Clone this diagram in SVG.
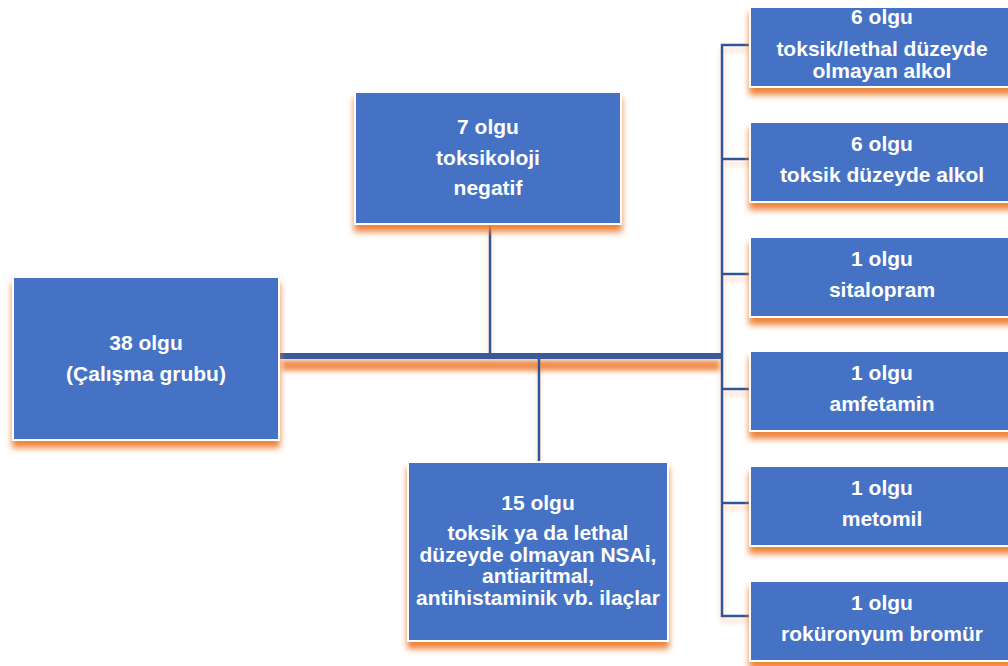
<svg xmlns="http://www.w3.org/2000/svg" width="1008" height="666" viewBox="0 0 1008 666">
  <defs>
    <filter id="sh" x="-10%" y="-10%" width="120%" height="130%">
      <feGaussianBlur in="SourceAlpha" stdDeviation="3" result="b"/>
      <feOffset in="b" dx="0" dy="7" result="o"/>
      <feFlood flood-color="#ED7D31" flood-opacity="0.95"/>
      <feComposite in2="o" operator="in" result="s"/>
      <feMerge><feMergeNode in="s"/><feMergeNode in="SourceGraphic"/></feMerge>
    </filter>
    <filter id="lsh" filterUnits="userSpaceOnUse" x="0" y="0" width="1008" height="666">
      <feGaussianBlur in="SourceAlpha" stdDeviation="2.5" result="b"/>
      <feOffset in="b" dx="0" dy="5" result="o"/>
      <feFlood flood-color="#ED7D31" flood-opacity="0.35"/>
      <feComposite in2="o" operator="in" result="s"/>
      <feMerge><feMergeNode in="s"/><feMergeNode in="SourceGraphic"/></feMerge>
    </filter>
    <filter id="blur" x="-5%" y="-100%" width="110%" height="300%">
      <feGaussianBlur stdDeviation="2.5"/>
    </filter>
  </defs>
  <style>
    .box{fill:#4472C4;stroke:#FFFFFF;stroke-width:2;filter:url(#sh)}
    .t{font-family:"Liberation Sans",Arial,sans-serif;font-weight:bold;font-size:21px;fill:#FFFFFF;text-anchor:middle}
    .ln{stroke:#2F5597;stroke-width:2.5;fill:none}
  </style>

  <g id="connectors">
    <rect x="282" y="360" width="438" height="11" fill="#ED7D31" opacity="0.85" filter="url(#blur)"/>
    <g filter="url(#lsh)">
      <line class="ln" x1="490" y1="224" x2="490" y2="354"/>
      <line class="ln" x1="539" y1="358" x2="539" y2="462"/>
      <polyline class="ln" points="750,45 722,45 722,616 750,616"/>
      <line class="ln" x1="722" y1="159" x2="750" y2="159"/>
      <line class="ln" x1="722" y1="274" x2="750" y2="274"/>
      <line class="ln" x1="722" y1="389" x2="750" y2="389"/>
      <line class="ln" x1="722" y1="503" x2="750" y2="503"/>
    </g>
    <rect x="279" y="353" width="443" height="6" fill="#3A5A9C"/>
  </g>

  <g id="n_main">
    <rect class="box" x="13" y="277" width="266" height="163"/>
    <text class="t" x="146" y="350">38 olgu</text>
    <text class="t" x="146" y="381">(Çalışma grubu)</text>
  </g>

  <g id="n_negatif">
    <rect class="box" x="355" y="92" width="266" height="132"/>
    <text class="t" x="488" y="134">7 olgu</text>
    <text class="t" x="488" y="165">toksikoloji</text>
    <text class="t" x="488" y="195">negatif</text>
  </g>

  <g id="n_ilac">
    <rect class="box" x="408" y="462" width="260" height="179"/>
    <text class="t" x="538" y="510">15 olgu</text>
    <text class="t" x="538" y="540">toksik ya da lethal</text>
    <text class="t" x="538" y="562">düzeyde olmayan NSAİ,</text>
    <text class="t" x="538" y="583">antiaritmal,</text>
    <text class="t" x="538" y="605">antihistaminik vb. ilaçlar</text>
  </g>

  <g id="n_r1">
    <rect class="box" x="750" y="7" width="264" height="80"/>
    <text class="t" x="882" y="24">6 olgu</text>
    <text class="t" x="882" y="56">toksik/lethal düzeyde</text>
    <text class="t" x="882" y="78">olmayan alkol</text>
  </g>

  <g id="n_r2">
    <rect class="box" x="750" y="122" width="264" height="80"/>
    <text class="t" x="882" y="151">6 olgu</text>
    <text class="t" x="882" y="182">toksik düzeyde alkol</text>
  </g>

  <g id="n_r3">
    <rect class="box" x="750" y="237" width="264" height="80"/>
    <text class="t" x="882" y="266">1 olgu</text>
    <text class="t" x="882" y="297">sitalopram</text>
  </g>

  <g id="n_r4">
    <rect class="box" x="750" y="351" width="264" height="80"/>
    <text class="t" x="882" y="380">1 olgu</text>
    <text class="t" x="882" y="411">amfetamin</text>
  </g>

  <g id="n_r5">
    <rect class="box" x="750" y="466" width="264" height="80"/>
    <text class="t" x="882" y="495">1 olgu</text>
    <text class="t" x="882" y="526">metomil</text>
  </g>

  <g id="n_r6">
    <rect class="box" x="750" y="581" width="264" height="80"/>
    <text class="t" x="882" y="610">1 olgu</text>
    <text class="t" x="882" y="641">roküronyum bromür</text>
  </g>
</svg>
